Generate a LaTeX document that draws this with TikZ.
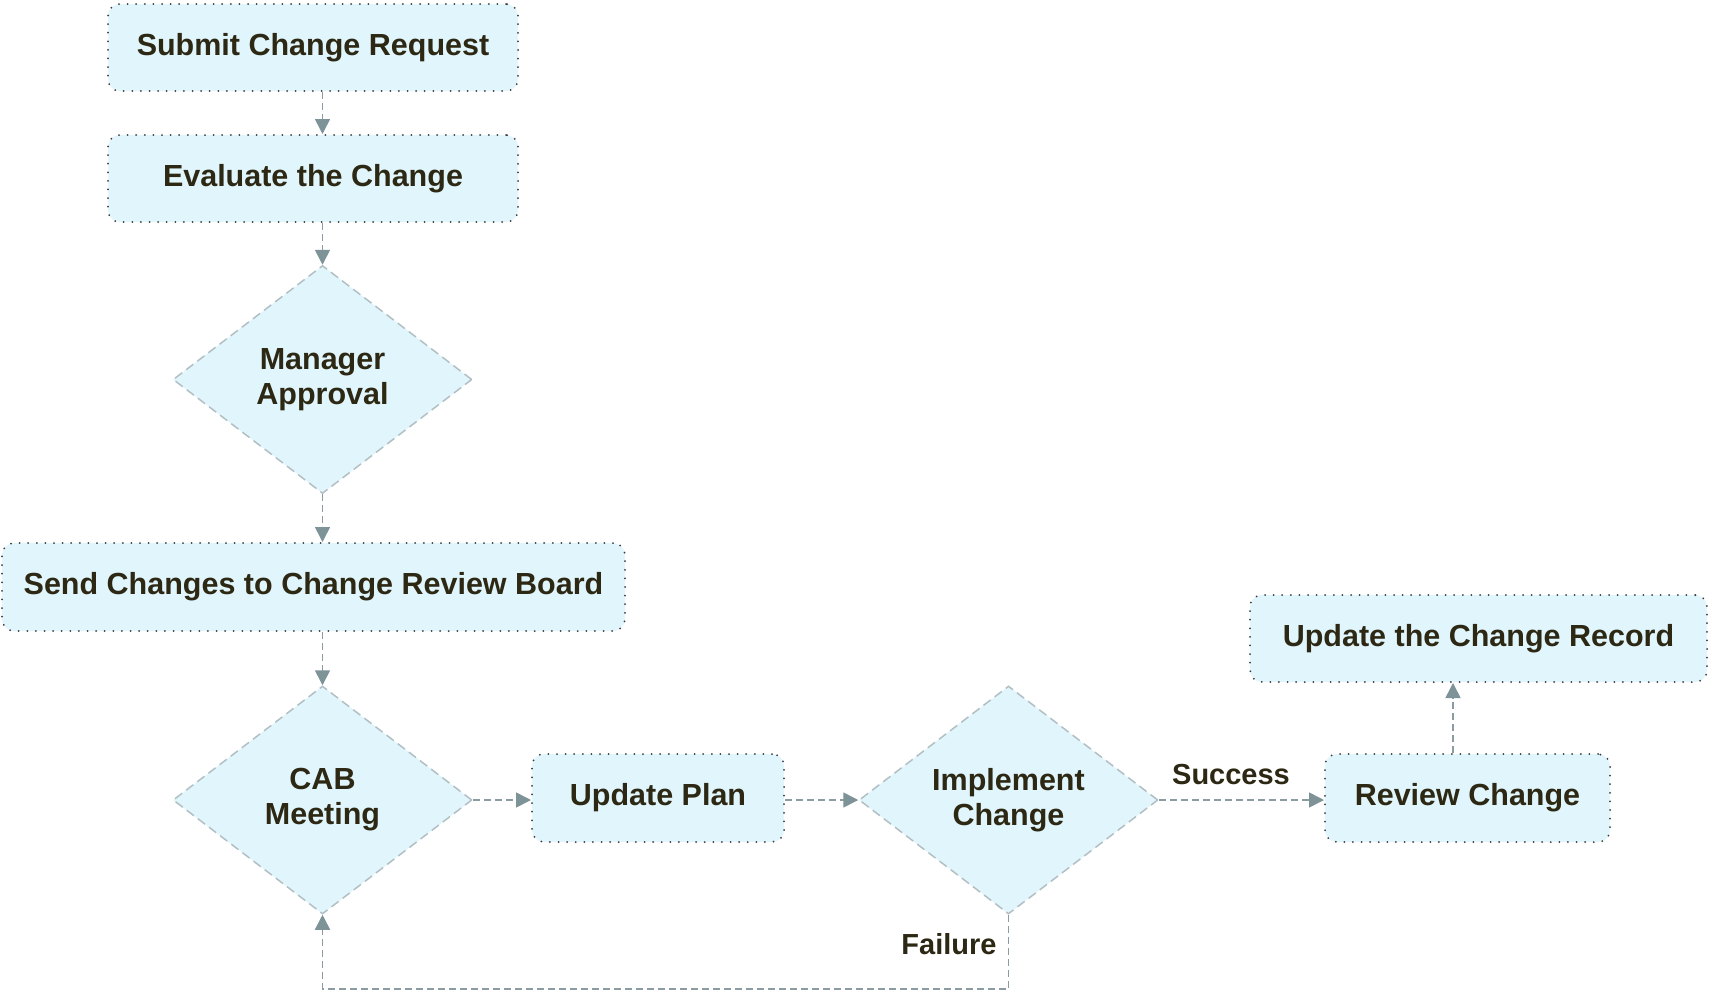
\documentclass[tikz,border=0pt]{standalone}
\usepackage{fontspec}
\setmainfont{Liberation Sans}
\usetikzlibrary{shapes.geometric,arrows.meta}
\definecolor{boxfill}{HTML}{E1F5FC}
\definecolor{txt}{HTML}{2D2813}
\definecolor{dotc}{HTML}{3C3C3C}
\definecolor{dashc}{HTML}{B2C0C4}
\definecolor{conc}{HTML}{8A9CA1}
\definecolor{tipc}{HTML}{7E9398}
\tikzset{
  stepbox/.style={rectangle, rounded corners=12pt, fill=boxfill, draw=dotc, line width=2pt,
    line cap=round, dash pattern=on 0pt off 8.6pt, text=txt,
    font=\fontsize{30.5}{35}\selectfont\bfseries, inner sep=0pt},
  decision/.style={diamond, aspect=1.31, fill=boxfill, draw=dashc, line width=1.5pt,
    dash pattern=on 9pt off 5pt, text=txt, align=center,
    font=\fontsize{30.5}{35}\selectfont\bfseries, inner sep=0pt,
    minimum width=299pt, minimum height=228pt},
  conn/.style={draw=conc, line width=1.6pt, dash pattern=on 7pt off 4pt,
    -{Triangle[length=15pt,width=15pt,fill=tipc,color=tipc,sep=0pt]}},
  connplain/.style={draw=conc, line width=1.6pt, dash pattern=on 7pt off 4pt},
  lbl/.style={text=txt, font=\fontsize{29}{33}\selectfont\bfseries, inner sep=0pt}
}
\begin{document}
\begin{tikzpicture}[x=1pt,y=-1pt]
\useasboundingbox[fill=white] (0,0) rectangle (1714,996);
\node[stepbox, minimum width=410pt, minimum height=87pt] (sub) at (313,47.5) {Submit Change Request};
\node[stepbox, minimum width=410pt, minimum height=87pt] (eva) at (313,178.5) {Evaluate the Change};
\node[decision] (mgr) at (322.5,379.5) {Manager\\Approval};
\node[stepbox, minimum width=623pt, minimum height=88pt] (send) at (313.5,587) {Send Changes to Change Review Board};
\node[decision] (cab) at (322.5,800) {CAB\\Meeting};
\node[stepbox, minimum width=252pt, minimum height=88pt] (plan) at (658,798) {Update Plan};
\node[decision] (impl) at (1008.5,800) {Implement\\Change};
\node[stepbox, minimum width=285pt, minimum height=88pt] (rev) at (1467.5,798) {Review Change};
\node[stepbox, minimum width=457pt, minimum height=87pt] (rec) at (1478.5,638.5) {Update the Change Record};
\coordinate (rx) at (1453,0);
\coordinate (loopy) at (0,989);
\node[lbl] (succ) at (1231,775) {Success};
\node[lbl] (fail) at (949,944) {Failure};
\draw[conn] (sub.south -| mgr.north) -- (eva.north -| mgr.north);
\draw[conn] (eva.south -| mgr.north) -- (mgr.north);
\draw[conn] (mgr.south) -- (send.north -| mgr.south);
\draw[conn] (send.south -| cab.north) -- (cab.north);
\draw[conn] (cab.east) -- (cab.east -| plan.west);
\draw[conn] (impl.west -| plan.east) -- (impl.west);
\draw[conn] (impl.east) -- (impl.east -| rev.west);
\draw[conn] (rev.north -| rx) -- (rec.south -| rx);
\draw[conn] (impl.south) -- (impl.south |- loopy) -| (cab.south);
\end{tikzpicture}
\end{document}
